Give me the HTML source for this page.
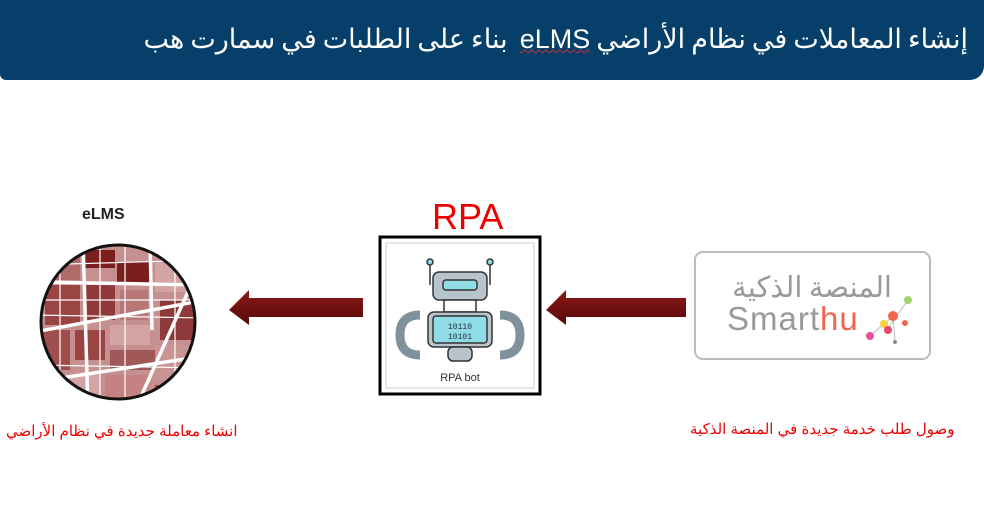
<!DOCTYPE html>
<html><head><meta charset="utf-8"><style>
body{margin:0;width:984px;height:529px;background:#fff;position:relative;overflow:hidden;font-family:"Liberation Sans","Noto Sans CJK SC",sans-serif}
.hdr{position:absolute;left:0;top:0;width:984px;height:80px;background:#063f69;border-bottom-right-radius:14px;border-bottom-left-radius:6px}
.hdr div{position:absolute;right:16px;top:17px;color:#fff;font-size:27px;direction:rtl;white-space:nowrap;font-family:"Noto Sans CJK SC","Liberation Sans",sans-serif}
.ab{position:absolute;direction:rtl;white-space:nowrap;color:#e00;font-size:15px}
</style></head><body>
<div class="hdr"><div>إنشاء المعاملات في نظام الأراضي <span style="text-decoration:underline wavy #c33;text-decoration-thickness:1px;font-family:'Liberation Sans'">eLMS</span>&nbsp; بناء على الطلبات في سمارت هب</div></div>

<div style="position:absolute;left:82px;top:206px;font-weight:bold;font-size:16px;color:#222">eLMS</div>
<svg style="position:absolute;left:0;top:0" width="984" height="529">
<defs><clipPath id="c"><circle cx="118" cy="322" r="77"/></clipPath>
<linearGradient id="ar" x1="0" y1="0" x2="0" y2="1"><stop offset="0" stop-color="#8b1a1a"/><stop offset="1" stop-color="#5a0808"/></linearGradient></defs>
<g clip-path="url(#c)">
<rect x="35" y="240" width="170" height="170" fill="#c79090"/>
<g>
<rect x="40" y="250" width="40" height="30" fill="#b06a6a"/><rect x="85" y="250" width="30" height="18" fill="#7a1e1e"/>
<rect x="117" y="262" width="33" height="22" fill="#7a1e1e"/><rect x="155" y="262" width="40" height="30" fill="#d4a3a3"/>
<rect x="45" y="285" width="35" height="40" fill="#9a4444"/><rect x="85" y="285" width="30" height="35" fill="#8e3a3a"/>
<rect x="120" y="290" width="28" height="30" fill="#b77777"/><rect x="160" y="300" width="40" height="40" fill="#8e3a3a"/>
<rect x="40" y="330" width="30" height="40" fill="#a04d4d"/><rect x="75" y="330" width="30" height="30" fill="#9a4444"/>
<rect x="110" y="325" width="40" height="20" fill="#d4a3a3"/><rect x="110" y="350" width="45" height="20" fill="#a05858"/>
<rect x="60" y="375" width="40" height="30" fill="#d4a3a3"/><rect x="105" y="375" width="45" height="35" fill="#c48282"/>
<rect x="155" y="345" width="45" height="35" fill="#c89494"/><rect x="155" y="385" width="40" height="25" fill="#9a4444"/>
</g>
<g stroke="#fff" stroke-width="3.5" fill="none"><line x1="35" y1="332" x2="205" y2="300"/><line x1="83" y1="240" x2="88" y2="410"/><line x1="200" y1="265" x2="135" y2="410"/><line x1="35" y1="382" x2="205" y2="356"/><line x1="150" y1="240" x2="152" y2="330"/><line x1="35" y1="282" x2="205" y2="285"/></g>
<g stroke="#fff" stroke-width="1.2"><line x1="35" y1="300" x2="205" y2="300"/><line x1="35" y1="315" x2="205" y2="318"/><line x1="100" y1="240" x2="100" y2="410"/><line x1="125" y1="240" x2="125" y2="410"/><line x1="60" y1="240" x2="60" y2="410"/><line x1="175" y1="240" x2="175" y2="410"/><line x1="35" y1="365" x2="205" y2="368"/><line x1="35" y1="265" x2="205" y2="260"/></g>
</g>
<circle cx="118" cy="322" r="77" fill="none" stroke="#111" stroke-width="3"/>
<polygon points="229,310 249,290 249,298 363,298 363,317 249,317 249,325" fill="url(#ar)"/>
<polygon points="546,310 566,290 566,298 686,298 686,317 566,317 566,325" fill="url(#ar)"/>
<rect x="380" y="237" width="160" height="157" fill="#fff" stroke="#000" stroke-width="3"/>
<rect x="386" y="243" width="148" height="145" fill="none" stroke="#ccc" stroke-width="1"/>
<g stroke="#333" stroke-width="1.5">
<line x1="430" y1="263" x2="430" y2="285"/><line x1="490" y1="263" x2="490" y2="285"/>
<circle cx="430" cy="262" r="3" fill="#8fdbe6"/><circle cx="490" cy="262" r="3" fill="#8fdbe6"/>
<rect x="433" y="272" width="54" height="28" rx="6" fill="#b7c4cc"/>
<rect x="443" y="280" width="34" height="10" rx="3" fill="#8fdbe6"/>
<rect x="444" y="300" width="32" height="12" fill="#fff"/>
<path d="M420 315 q-20 0 -20 20 q0 20 20 20" fill="none" stroke="#7f919b" stroke-width="9"/>
<path d="M500 315 q20 0 20 20 q0 20 -20 20" fill="none" stroke="#7f919b" stroke-width="9"/>
<rect x="428" y="312" width="64" height="35" rx="6" fill="#b7c4cc"/>
<rect x="433" y="316" width="54" height="27" rx="3" fill="#8fdbe6"/>
<rect x="448" y="347" width="24" height="14" rx="5" fill="#b7c4cc"/>
</g>
<text x="460" y="329" font-size="8" text-anchor="middle" font-family="Liberation Mono" fill="#234">10110</text>
<text x="460" y="339" font-size="8" text-anchor="middle" font-family="Liberation Mono" fill="#234">10101</text>
<text x="460" y="381" font-size="11" text-anchor="middle" fill="#333">RPA bot</text>
<rect x="695" y="252" width="235" height="107" rx="8" fill="#fff" stroke="#bbb" stroke-width="2"/>
<text x="727" y="330" font-size="33" fill="#999" letter-spacing="1">Smart<tspan fill="#f0654e">hu</tspan></text>
<g stroke="#bbb" stroke-width="1"><line x1="908" y1="300" x2="888" y2="328"/><line x1="893" y1="316" x2="870" y2="336"/><line x1="893" y1="316" x2="895" y2="340"/></g>
<g><circle cx="908" cy="300" r="4" fill="#9fd36b"/><circle cx="893" cy="316" r="5" fill="#f0654e"/><circle cx="884" cy="324" r="4" fill="#f7d040"/><circle cx="888" cy="330" r="4" fill="#e7476f"/><circle cx="905" cy="323" r="3" fill="#f0654e"/><circle cx="870" cy="336" r="4" fill="#e74fa0"/><circle cx="895" cy="342" r="2" fill="#888"/></g>
</svg>
<div style="position:absolute;right:92px;top:268px;direction:rtl;color:#999;font-size:29px;white-space:nowrap;font-family:'Noto Sans CJK SC',sans-serif;line-height:34px">المنصة الذكية</div>
<div style="position:absolute;left:432px;top:196px;color:#e00;font-size:36px">RPA</div>
<div class="ab" style="left:6px;top:422px">انشاء معاملة جديدة في نظام الأراضي</div>
<div class="ab" style="left:690px;top:420px">وصول طلب خدمة جديدة في المنصة الذكية</div>
</body></html>
